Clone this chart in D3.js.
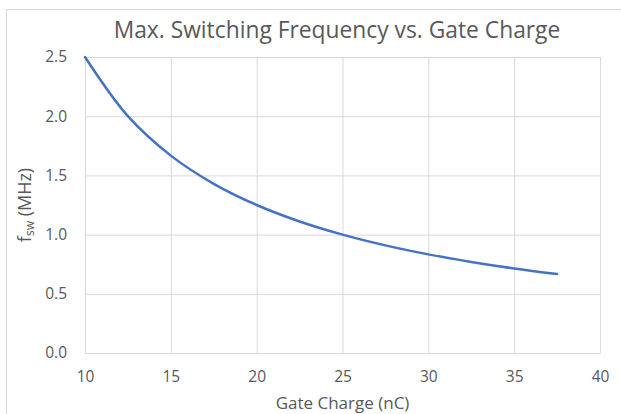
<!DOCTYPE html>
<html>
<head>
<meta charset="utf-8">
<script src="https://cdn.jsdelivr.net/npm/d3@7"></script>
<style>
  body { margin: 0; background: #fff; }
  text { font-family: "Open Sans", sans-serif; fill: #595959; }
</style>
</head>
<body>
<div id="chart"></div>
<script>
// values
const gateCharge = [10, 12.5, 15, 17.5, 20, 22.5, 25, 27.5, 30, 32.5, 35, 37.5];
const fsw = [2.5, 2.0, 1.667, 1.429, 1.25, 1.111, 1.0, 0.909, 0.833, 0.769, 0.714, 0.667];
const xTicks = [10, 15, 20, 25, 30, 35, 40];
const yTicks = [0, 0.5, 1.0, 1.5, 2.0, 2.5];

const W = 621, H = 414;
const margin = {top: 57, right: 21, bottom: 61, left: 85};
const width = W - margin.left - margin.right;
const height = H - margin.top - margin.bottom;

const svg = d3.select("#chart").append("svg")
    .attr("width", W)
    .attr("height", H);

// chart frame (cut off at right and bottom)
svg.append("rect")
    .attr("x", 6.5).attr("y", 9.5)
    .attr("width", 800).attr("height", 600)
    .attr("fill", "none")
    .attr("stroke", "#d9d9d9");

const g = svg.append("g")
    .attr("transform", "translate(" + margin.left + "," + margin.top + ")");

const x = d3.scaleLinear().domain([10, 40]).range([0, width]);
const y = d3.scaleLinear().domain([0, 2.5]).range([height, 0]);

// grid
g.append("g")
    .attr("transform", "translate(0," + height + ")")
    .call(d3.axisBottom(x).tickValues(xTicks).tickSize(-height).tickFormat(""))
    .call(a => a.select(".domain").remove())
    .selectAll("line").attr("stroke", "#d9d9d9");

g.append("g")
    .call(d3.axisLeft(y).tickValues(yTicks).tickSize(-width).tickFormat(""))
    .call(a => a.select(".domain").remove())
    .selectAll("line").attr("stroke", "#d9d9d9");

// axis labels
const xAxis = g.append("g")
    .attr("transform", "translate(0," + height + ")")
    .call(d3.axisBottom(x).tickValues(xTicks).tickSize(0).tickPadding(18).tickFormat(d3.format("d")));
xAxis.select(".domain").attr("stroke", "#d9d9d9");
xAxis.selectAll("text").attr("font-size", 15.5).style("fill", "#595959");

const yAxis = g.append("g")
    .call(d3.axisLeft(y).tickValues(yTicks).tickSize(0).tickPadding(18).tickFormat(d3.format(".1f")));
yAxis.select(".domain").attr("stroke", "#d9d9d9");
yAxis.selectAll("text").attr("font-size", 15.5).style("fill", "#595959");

// the curve
const line = d3.line()
    .x((d, i) => x(gateCharge[i]))
    .y(d => y(d))
    .curve(d3.curveCatmullRom.alpha(0.5));

g.append("path")
    .datum(fsw)
    .attr("d", line)
    .attr("fill", "none")
    .attr("stroke", "#4472c4")
    .attr("stroke-width", 2.5)
    .attr("stroke-linecap", "round");

// titles
svg.append("text")
    .attr("x", 337).attr("y", 38)
    .attr("text-anchor", "middle")
    .attr("font-size", 22.8)
    .text("Max. Switching Frequency vs. Gate Charge");

svg.append("text")
    .attr("x", margin.left + width / 2).attr("y", 409)
    .attr("text-anchor", "middle")
    .attr("font-size", 17)
    .text("Gate Charge (nC)");

const yt = svg.append("text")
    .attr("transform", "translate(31," + (margin.top + height / 2) + ") rotate(-90)")
    .attr("text-anchor", "middle")
    .attr("font-size", 18);
yt.append("tspan").text("f");
yt.append("tspan").attr("font-size", 12).attr("dy", 3).text("sw");
yt.append("tspan").attr("dy", -3).text(" (MHz)");
</script>
</body>
</html>
